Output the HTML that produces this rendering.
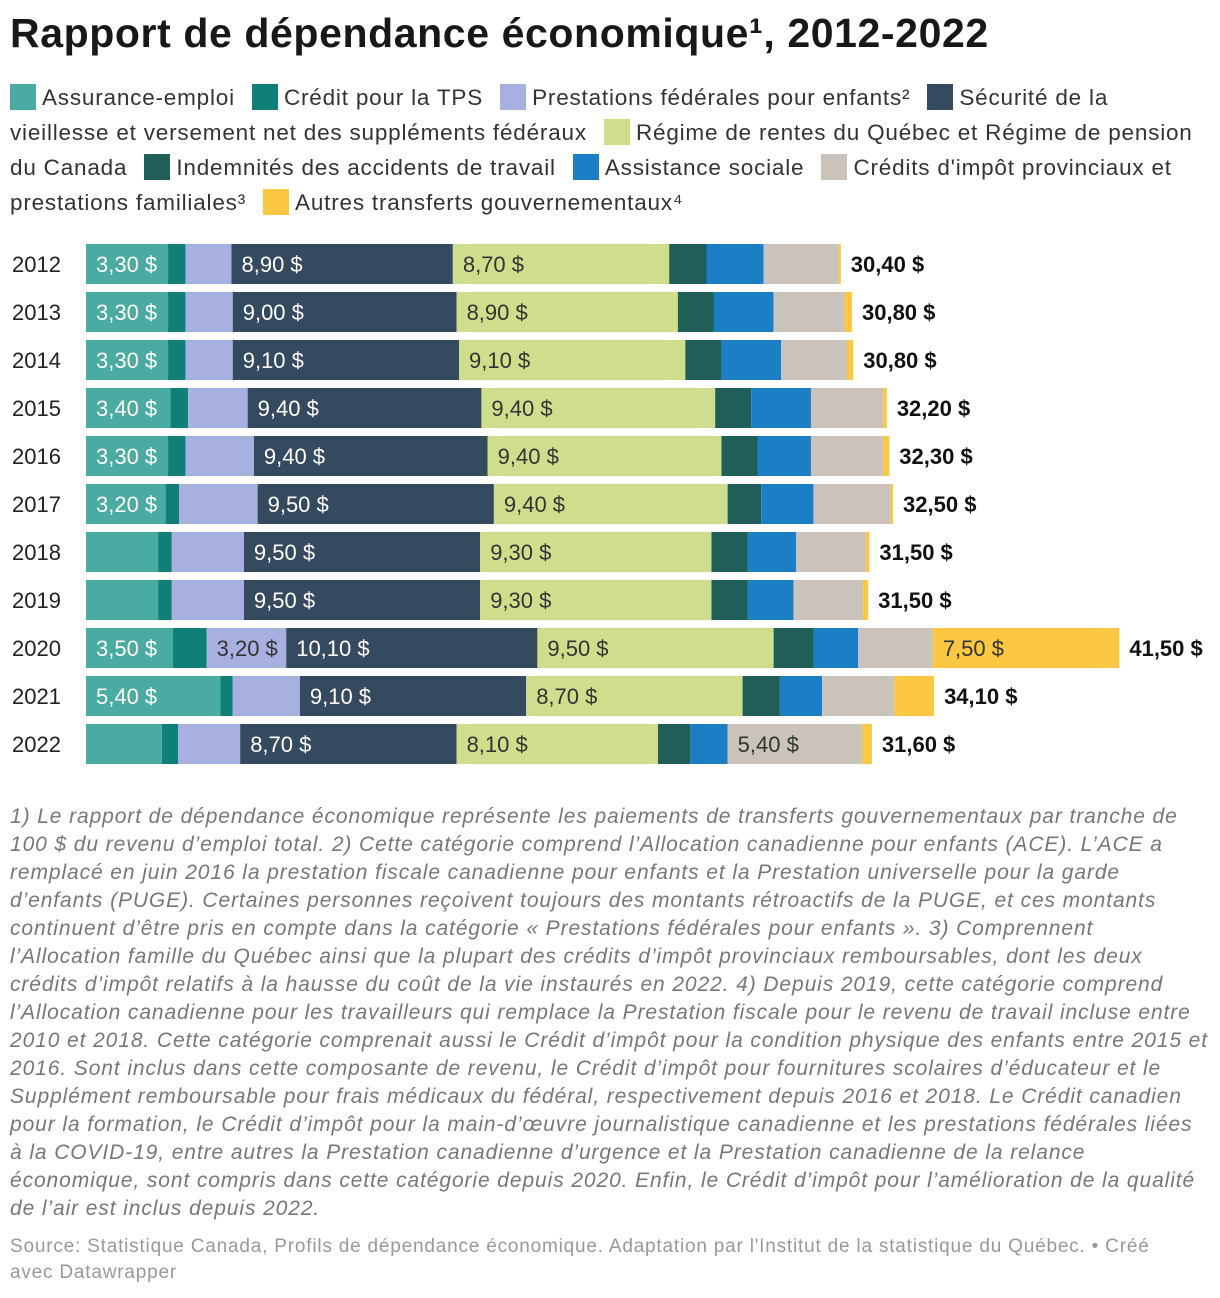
<!DOCTYPE html>
<html><head><meta charset="utf-8"><style>
body{margin:0;background:#fff;font-family:"Liberation Sans",sans-serif;color:#181818;width:1220px;height:1298px;overflow:hidden;position:relative}
h1{position:absolute;left:10px;top:10px;margin:0;font-size:41px;font-weight:bold;letter-spacing:0.6px}
#legend{position:absolute;left:10px;top:80px;width:1208px;font-size:22.5px;line-height:35px;color:#333;letter-spacing:0.8px}
.sw{display:inline-block;width:26px;height:26px;vertical-align:-5px;margin-right:6px}
.li{margin-right:10px}
#notes{position:absolute;left:10px;top:803px;width:1200px;font-size:21px;line-height:28px;font-style:italic;color:#777;letter-spacing:0.9px}
#source{position:absolute;left:10px;top:1234px;width:1175px;font-size:19px;line-height:26px;color:#999;letter-spacing:0.8px}
</style></head><body>
<h1>Rapport de dépendance économique¹, 2012-2022</h1>
<div id="legend">
<span class="li"><span class="sw" style="background:#4aaba3"></span>Assurance-emploi</span>
<span class="li"><span class="sw" style="background:#0f7f78"></span>Crédit pour la TPS</span>
<span class="li"><span class="sw" style="background:#a7b0e0"></span>Prestations fédérales pour enfants²</span>
<span class="li"><span class="sw" style="background:#354a5f"></span>Sécurité de la<br>vieillesse et versement net des suppléments fédéraux</span>
<span class="li"><span class="sw" style="background:#cfde8c"></span>Régime de rentes du Québec et Régime de pension du Canada</span>
<span class="li"><span class="sw" style="background:#205e58"></span>Indemnités des accidents de travail</span>
<span class="li"><span class="sw" style="background:#1c7fc6"></span>Assistance sociale</span>
<span class="li"><span class="sw" style="background:#c9c3bb"></span>Crédits d'impôt provinciaux et prestations familiales³</span>
<span class="li"><span class="sw" style="background:#fcc843"></span>Autres transferts gouvernementaux⁴</span>
</div>
<svg id="chart" width="1220" height="780" style="position:absolute;left:0;top:0"></svg>
<div id="notes">1) Le rapport de dépendance économique représente les paiements de transferts gouvernementaux par tranche de 100 $ du revenu d’emploi total. 2) Cette catégorie comprend l’Allocation canadienne pour enfants (ACE). L’ACE a remplacé en juin 2016 la prestation fiscale canadienne pour enfants et la Prestation universelle pour la garde d’enfants (PUGE). Certaines personnes reçoivent toujours des montants rétroactifs de la PUGE, et ces montants continuent d’être pris en compte dans la catégorie « Prestations fédérales pour enfants ». 3) Comprennent l’Allocation famille du Québec ainsi que la plupart des crédits d’impôt provinciaux remboursables, dont les deux crédits d’impôt relatifs à la hausse du coût de la vie instaurés en 2022. 4) Depuis 2019, cette catégorie comprend l’Allocation canadienne pour les travailleurs qui remplace la Prestation fiscale pour le revenu de travail incluse entre 2010 et 2018. Cette catégorie comprenait aussi le Crédit d’impôt pour la condition physique des enfants entre 2015 et 2016. Sont inclus dans cette composante de revenu, le Crédit d’impôt pour fournitures scolaires d’éducateur et le Supplément remboursable pour frais médicaux du fédéral, respectivement depuis 2016 et 2018. Le Crédit canadien pour la formation, le Crédit d’impôt pour la main-d’œuvre journalistique canadienne et les prestations fédérales liées à la COVID-19, entre autres la Prestation canadienne d’urgence et la Prestation canadienne de la relance économique, sont compris dans cette catégorie depuis 2020. Enfin, le Crédit d’impôt pour l’amélioration de la qualité de l’air est inclus depuis 2022.</div>
<div id="source">Source: Statistique Canada, Profils de dépendance économique. Adaptation par l'Institut de la statistique du Québec. • Créé avec Datawrapper</div>
<script>
const years = ["2012","2013","2014","2015","2016","2017","2018","2019","2020","2021","2022"];
const ae = [3.3,3.3,3.3,3.4,3.3,3.2,2.9,2.9,3.5,5.4,3.05];
const tps = [0.7,0.7,0.7,0.7,0.7,0.55,0.55,0.55,1.35,0.5,0.65];
const enfants = [1.85,1.9,1.9,2.4,2.75,3.15,2.9,2.9,3.2,2.7,2.5];
const securite = [8.9,9.0,9.1,9.4,9.4,9.5,9.5,9.5,10.1,9.1,8.7];
const rrq = [8.7,8.9,9.1,9.4,9.4,9.4,9.3,9.3,9.5,8.7,8.1];
const accidents = [1.5,1.45,1.45,1.45,1.45,1.35,1.45,1.45,1.6,1.5,1.3];
const assistance = [2.3,2.4,2.4,2.4,2.15,2.1,1.95,1.85,1.8,1.7,1.5];
const provinciaux = [3.0,2.85,2.65,2.9,2.9,3.1,2.8,2.8,3.0,2.9,5.4];
const autres = [0.1,0.3,0.25,0.15,0.25,0.1,0.15,0.2,7.5,1.6,0.4];
const totals = [30.4,30.8,30.8,32.2,32.3,32.5,31.5,31.5,41.5,34.1,31.6];
const series = [ae,tps,enfants,securite,rrq,accidents,assistance,provinciaux,autres];
const seriesNames = ["assurance-emploi","credit-tps","prestations-enfants","securite-vieillesse","rrq-rpc","accidents-travail","assistance-sociale","credits-provinciaux","autres-transferts"];
const colors = ["#4aaba3","#0f7f78","#a7b0e0","#354a5f","#cfde8c","#205e58","#1c7fc6","#c9c3bb","#fcc843"];
const textCol = ["#fff","#fff","#333","#fff","#333","#fff","#fff","#333","#333"];
const x0=86, pxPer=24.87, y0=244, step=48, bh=40;
const xs = v => x0 + v*pxPer;
const ys = i => y0 + i*step;
const fmt = v => v.toFixed(2).replace('.',',')+' $';
const svg=document.getElementById('chart');
const NS="http://www.w3.org/2000/svg";
years.forEach((yr,i)=>{
  const t=document.createElementNS(NS,'text');
  
  
  t.setAttribute('x',12);t.setAttribute('y',ys(i)+bh/2+8);
  t.setAttribute('font-size','22');t.setAttribute('fill','#222');
  t.textContent=yr;svg.appendChild(t);
  let acc=0;
  series.forEach((s,k)=>{
    const v=s[i];
    const r=document.createElementNS(NS,'rect');
    
    
    r.setAttribute('x',xs(acc));r.setAttribute('y',ys(i));
    r.setAttribute('width',v*pxPer);r.setAttribute('height',bh);
    r.setAttribute('fill',colors[k]);svg.appendChild(r);
    if(v>=3.18){
      const l=document.createElementNS(NS,'text');
      
      
      l.setAttribute('x',xs(acc)+10);l.setAttribute('y',ys(i)+bh/2+8);
      l.setAttribute('font-size','22');l.setAttribute('fill',textCol[k]);
      l.textContent=fmt(v);svg.appendChild(l);
    }
    acc+=v;
  });
  const tt=document.createElementNS(NS,'text');
  
  
  tt.setAttribute('x',xs(acc)+10);tt.setAttribute('y',ys(i)+bh/2+8);
  tt.setAttribute('font-size','22');tt.setAttribute('font-weight','bold');tt.setAttribute('fill','#111');
  tt.textContent=fmt(totals[i]);svg.appendChild(tt);
});
</script>
</body></html>
